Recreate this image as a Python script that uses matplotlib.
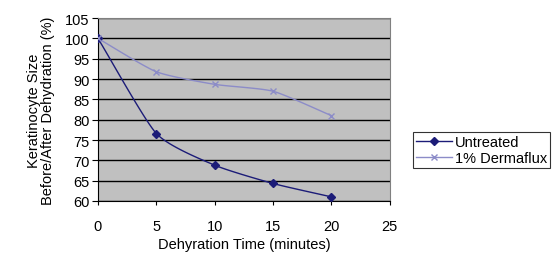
import numpy as np
import matplotlib
matplotlib.use("Agg")
from matplotlib import pyplot as plt

# data
minutes = [0, 5, 10, 15, 20]
untreated = [100, 76.6, 68.8, 64.3, 61.0]
dermaflux = [100, 91.8, 88.7, 87.0, 81.0]
series_names = ["Untreated", "1% Dermaflux"]


def smooth(x, y, tension=0.6, n=20):
    # cubic Hermite curve through the points, a soft version of Excel's smoothed line
    pts = np.column_stack([x, y]).astype(float)
    m = np.zeros_like(pts)
    m[1:-1] = (pts[2:] - pts[:-2]) / 2
    m[0] = pts[1] - pts[0]
    m[-1] = pts[-1] - pts[-2]
    m *= tension
    t = np.linspace(0, 1, n)[:, None]
    h00 = 2 * t**3 - 3 * t**2 + 1
    h10 = t**3 - 2 * t**2 + t
    h01 = -2 * t**3 + 3 * t**2
    h11 = t**3 - t**2
    segs = []
    for i in range(len(pts) - 1):
        segs.append(h00 * pts[i] + h10 * m[i] + h01 * pts[i + 1] + h11 * m[i + 1])
    curve = np.vstack(segs)
    return curve[:, 0], curve[:, 1]


plt.rcParams['font.family'] = ['Liberation Sans', 'DejaVu Sans']
fs = 10.5

fig = plt.figure(figsize=(5.58, 2.55), dpi=100)
ax = fig.add_axes([0.1756, 0.208, 0.523, 0.717])
ax.set_facecolor('#C0C0C0')

navy = '#1C1C78'
lilac = '#8C8CC8'

sx, sy = smooth(minutes, untreated)
ax.plot(sx, sy, color=navy, lw=1, zorder=3)
ax.plot(minutes, untreated, ls='none', marker='D', ms=4, color=navy, zorder=4)
dx, dy = smooth(minutes, dermaflux)
ax.plot(dx, dy, color=lilac, lw=1, zorder=3)
ax.plot(minutes, dermaflux, ls='none', marker='x', ms=5, mew=1, color=lilac, zorder=4)

ax.set_xlim(0, 25)
ax.set_ylim(60, 105)
ax.set_xticks(range(0, 26, 5))
ax.set_yticks(range(60, 106, 5))
ax.yaxis.grid(True, color='black', lw=1)
ax.set_axisbelow(True)
for s in ['top', 'right']:
    ax.spines[s].set_color('#808080')
ax.spines['left'].set_color('black')
ax.spines['bottom'].set_color('black')
ax.tick_params(axis='y', direction='out', length=4, labelsize=fs, pad=2)
ax.tick_params(axis='x', direction='out', length=3, labelsize=fs, pad=10)

ax.set_xlabel('Dehyration Time (minutes)', fontsize=fs, labelpad=3)
ax.set_ylabel('Keratinocyte Size\nBefore/After Dehydration (%)', fontsize=fs,
              labelpad=7, linespacing=1.05)

h1, = ax.plot([], [], color=navy, marker='D', ms=4, lw=1)
h2, = ax.plot([], [], color=lilac, marker='x', ms=5, lw=1)
leg = fig.legend([h1, h2], series_names, loc='upper left',
                 bbox_to_anchor=(0.74, 0.478), frameon=True, fancybox=False,
                 edgecolor='black', fontsize=fs, handlelength=2.5,
                 handletextpad=0.2, borderpad=0.2, labelspacing=0.15,
                 borderaxespad=0)
leg.get_frame().set_linewidth(0.8)

fig.savefig('out.png', dpi=100)
